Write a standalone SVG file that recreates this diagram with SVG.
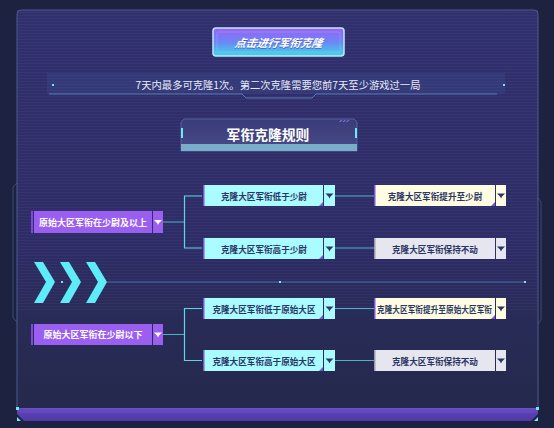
<svg xmlns="http://www.w3.org/2000/svg" width="554" height="428" viewBox="0 0 554 428">
<defs>
<linearGradient id="panelG" x1="0" y1="0" x2="0" y2="1">
<stop offset="0" stop-color="#31306f"/>
<stop offset="0.6" stop-color="#2d2c66"/>
<stop offset="0.8" stop-color="#282b55"/>
<stop offset="1" stop-color="#25294c"/>
</linearGradient>
<linearGradient id="btnG" x1="0" y1="0" x2="0" y2="1">
<stop offset="0" stop-color="#9b62f4"/>
<stop offset="0.5" stop-color="#6b86f6"/>
<stop offset="1" stop-color="#3fd9e6"/>
</linearGradient>
<linearGradient id="titleG" x1="0" y1="0" x2="0" y2="1">
<stop offset="0" stop-color="#383c78"/>
<stop offset="1" stop-color="#4a4a8a"/>
</linearGradient>
<linearGradient id="barG" x1="0" y1="0" x2="0" y2="1">
<stop offset="0" stop-color="#6a4fc8"/>
<stop offset="0.4" stop-color="#5a40b2"/>
<stop offset="1" stop-color="#4f3aa4"/>
</linearGradient>
<pattern id="scan" width="4" height="3" patternUnits="userSpaceOnUse">
<rect width="4" height="1" fill="#ffffff" opacity="0.035"/>
</pattern>
<g id="icoW"><path d="M-4,-2 H4 L1,1 L0,3 L-1,1 Z" fill="#ffffff"/></g>
<g id="icoD"><path d="M-4,-2 H4 L1,1 L0,3 L-1,1 Z" fill="#2b3566"/></g>
</defs>
<style>
.cn{font-family:"Noto Sans CJK SC","Noto Sans",sans-serif;}
.lt{fill:#ffffff;font-size:9px;font-weight:700;}
.dk{fill:#2b3566;font-size:8.6px;font-weight:700;}
.pur{fill:#9a5ef0;}
.cy{fill:#a9fcff;}
.ye{fill:#fffde1;}
.gy{fill:#e6e6ee;}
.con{fill:none;stroke:#49b4c8;stroke-width:1;}
.brk{fill:none;stroke:#5ad8ea;stroke-width:1.2;}
.frame{fill:none;stroke:#3d4b74;stroke-width:1;}
.corner{fill:#7a55d8;}
</style>
<rect width="554" height="428" fill="#1d2240"/>
<path class="frame" d="M17,183 L13,187 V318 L17,322"/>
<path class="frame" d="M538,198 L541,202 V320 L538,324"/>
<g id="panel">
<rect x="17" y="10" width="521" height="400" fill="url(#panelG)"/>
<rect x="17" y="10" width="521" height="300" fill="url(#scan)"/>
<path d="M17,410 V14 Q17,10 21,10 H534 Q538,10 538,14 V410" fill="none" stroke="#4d5a8e" stroke-width="1"/>
</g>
<g id="bottom-bar">
<path d="M17,408 H538 V414 L531,421 H24 L17,414 Z" fill="url(#barG)"/>
<path d="M20,412 H535" stroke="#7358d0" stroke-width="1" opacity="0.6"/>
<rect x="16" y="407" width="3" height="3" fill="#6ee8f4"/>
<rect x="536" y="407" width="3" height="3" fill="#6ee8f4"/>
<path d="M17,417 L21,421 H17 Z" fill="#6ee8f4"/>
<path d="M538,417 L534,421 H538 Z" fill="#6ee8f4"/>
</g>
<g id="button">
<rect x="213" y="28" width="131" height="28" rx="3" fill="url(#btnG)" stroke="#bfe6ff" stroke-width="1.5"/>
<rect x="217" y="32" width="123" height="20" rx="1" fill="none" stroke="#ffffff" stroke-opacity="0.15"/>
<text class="cn" x="279" y="43" text-anchor="middle" dominant-baseline="central" font-size="11" font-weight="700" font-style="italic" fill="#3a3a9a" opacity="0.6" transform="skewX(-10) translate(7.6,0)">点击进行军衔克隆</text>
<text class="cn" x="279" y="42" text-anchor="middle" dominant-baseline="central" font-size="11" font-weight="700" font-style="italic" fill="#ffffff" transform="skewX(-10) translate(7.4,0)">点击进行军衔克隆</text>
</g>
<g id="info">
<rect x="47" y="73" width="458" height="21" fill="#3c4c8e" opacity="0.35"/>
<path d="M49,94 H242 L246,98 H312 L316,94 H497" fill="none" stroke="#5b7ab4" stroke-width="1"/>
<rect x="52" y="84" width="2" height="2" fill="#6ee8f4"/>
<rect x="503" y="84" width="2" height="2" fill="#6ee8f4"/>
<text class="cn" x="278" y="84.5" text-anchor="middle" dominant-baseline="central" font-size="10.3" fill="#e8eaf8">7天内最多可克隆1次。第二次克隆需要您前7天至少游戏过一局</text>
</g>
<g id="title">
<path d="M184,119 H354 L357,122 V151 H181 V122 Z" fill="url(#titleG)" stroke="#5e6aa8" stroke-width="0.8"/>
<rect x="181" y="144" width="176" height="7" fill="#79aec8"/>
<rect x="181" y="128" width="2" height="10" fill="#6ee8f4"/>
<rect x="355" y="128" width="2" height="10" fill="#6ee8f4"/>
<path d="M339,122 l2,-2 h1.5 l-2,2 Z M342.5,122 l2,-2 h1.5 l-2,2 Z M346,122 l2,-2 h1.5 l-2,2 Z" fill="#8a6ae8"/>
<text class="cn" x="268" y="134" text-anchor="middle" dominant-baseline="central" font-size="13.8" font-weight="700" fill="#ffffff">军衔克隆规则</text>
</g>
<g id="divider">
<polygon points="34,262 43,262 55,282 43,303 34,303 46,282" fill="#5decf8"/>
<polygon points="60,262 69,262 81,282 69,303 60,303 72,282" fill="#5decf8"/>
<polygon points="86,262 95,262 107,282 95,303 86,303 98,282" fill="#5decf8"/>
<line x1="107" y1="282" x2="525" y2="282" stroke="#4a6aa8" stroke-width="1"/>
<rect x="61" y="281" width="2" height="2" fill="#8ae0f0"/>
<rect x="279" y="281" width="2" height="2" fill="#8ae0f0"/>
<rect x="524" y="281" width="2" height="2" fill="#8ae0f0"/>
</g>
<g id="connectors">
<line class="con" x1="163" y1="222" x2="184" y2="222"/>
<path class="brk" d="M202,196 H184.5 V248 H202"/>
<line class="con" x1="335" y1="196" x2="374" y2="196"/>
<line class="con" x1="335" y1="248" x2="374" y2="248"/>
<line class="con" x1="163" y1="334.5" x2="184" y2="334.5"/>
<path class="brk" d="M202,308.5 H184.5 V360.5 H202"/>
<line class="con" x1="335" y1="308.5" x2="374" y2="308.5"/>
<line class="con" x1="335" y1="360.5" x2="374" y2="360.5"/>
</g>
<g id="nodeA">
<rect x="31" y="211" width="2" height="22" fill="#7e4ad8"/>
<rect x="34" y="211" width="118" height="22" class="pur"/>
<rect x="153" y="211" width="10" height="22" class="pur"/>
<use href="#icoW" x="158" y="222"/>
<text class="cn lt" x="93" y="222" text-anchor="middle" dominant-baseline="central">原始大区军衔在少尉及以上</text>
</g>
<g id="nodeB1">
<rect x="203" y="185" width="120" height="21" class="cy"/>
<rect x="203" y="185" width="1.5" height="21" fill="#7a55d8"/>
<path class="corner" d="M323,206 v-4 l-4,4 Z"/>
<rect x="324" y="185" width="11" height="21" class="cy"/>
<use href="#icoD" x="329.5" y="195.5"/>
<text class="cn dk" x="264" y="195.5" text-anchor="middle" dominant-baseline="central">克隆大区军衔低于少尉</text>
</g>
<g id="nodeB2">
<rect x="203" y="238" width="120" height="21" class="cy"/>
<rect x="203" y="238" width="1.5" height="21" fill="#7a55d8"/>
<path class="corner" d="M323,259 v-4 l-4,4 Z"/>
<rect x="324" y="238" width="11" height="21" class="cy"/>
<use href="#icoD" x="329.5" y="248.5"/>
<text class="cn dk" x="264" y="248.5" text-anchor="middle" dominant-baseline="central">克隆大区军衔高于少尉</text>
</g>
<g id="nodeC1">
<rect x="374" y="185" width="121" height="21" class="ye"/>
<rect x="374" y="185" width="1.5" height="21" fill="#7a55d8"/>
<path class="corner" d="M495,206 v-4 l-4,4 Z"/>
<rect x="496" y="185" width="10" height="21" class="ye"/>
<use href="#icoD" x="501" y="195.5"/>
<text class="cn dk" x="435" y="195.5" text-anchor="middle" dominant-baseline="central">克隆大区军衔提升至少尉</text>
</g>
<g id="nodeC2">
<rect x="374" y="238" width="121" height="21" class="gy"/>
<rect x="374" y="238" width="1.5" height="21" fill="#9a9ab0"/>
<rect x="496" y="238" width="10" height="21" class="gy"/>
<use href="#icoD" x="501" y="248.5"/>
<text class="cn dk" x="435" y="248.5" text-anchor="middle" dominant-baseline="central" fill="#3a4266">克隆大区军衔保持不动</text>
</g>
<g id="nodeD">
<rect x="31" y="324" width="2" height="21" fill="#7e4ad8"/>
<rect x="34" y="324" width="118" height="21" class="pur"/>
<rect x="153" y="324" width="10" height="21" class="pur"/>
<use href="#icoW" x="158" y="334.5"/>
<text class="cn lt" x="93" y="334.5" text-anchor="middle" dominant-baseline="central">原始大区军衔在少尉以下</text>
</g>
<g id="nodeE1">
<rect x="203" y="298" width="120" height="21" class="cy"/>
<rect x="203" y="298" width="1.5" height="21" fill="#7a55d8"/>
<path class="corner" d="M323,319 v-4 l-4,4 Z"/>
<rect x="324" y="298" width="11" height="21" class="cy"/>
<use href="#icoD" x="329.5" y="308.5"/>
<text class="cn dk" x="264" y="308.5" text-anchor="middle" dominant-baseline="central">克隆大区军衔低于原始大区</text>
</g>
<g id="nodeE2">
<rect x="203" y="350" width="120" height="21" class="cy"/>
<rect x="203" y="350" width="1.5" height="21" fill="#7a55d8"/>
<path class="corner" d="M323,371 v-4 l-4,4 Z"/>
<rect x="324" y="350" width="11" height="21" class="cy"/>
<use href="#icoD" x="329.5" y="360.5"/>
<text class="cn dk" x="264" y="360.5" text-anchor="middle" dominant-baseline="central">克隆大区军衔高于原始大区</text>
</g>
<g id="nodeF1">
<rect x="374" y="298" width="121" height="21" class="ye"/>
<rect x="374" y="298" width="1.5" height="21" fill="#7a55d8"/>
<path class="corner" d="M495,319 v-4 l-4,4 Z"/>
<rect x="496" y="298" width="10" height="21" class="ye"/>
<use href="#icoD" x="501" y="308.5"/>
<text class="cn dk" x="434.5" y="308.5" text-anchor="middle" dominant-baseline="central" font-size="7.7" textLength="115" lengthAdjust="spacingAndGlyphs">克隆大区军衔提升至原始大区军衔</text>
</g>
<g id="nodeF2">
<rect x="374" y="350" width="121" height="21" class="gy"/>
<rect x="374" y="350" width="1.5" height="21" fill="#9a9ab0"/>
<rect x="496" y="350" width="10" height="21" class="gy"/>
<use href="#icoD" x="501" y="360.5"/>
<text class="cn dk" x="435" y="360.5" text-anchor="middle" dominant-baseline="central" fill="#3a4266">克隆大区军衔保持不动</text>
</g>
</svg>
